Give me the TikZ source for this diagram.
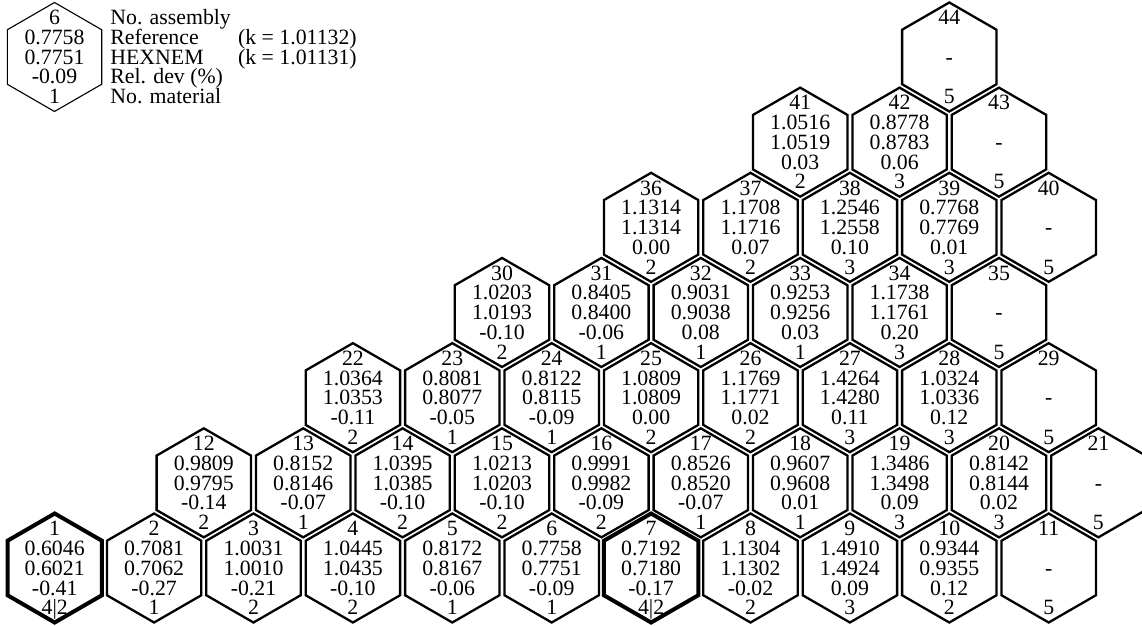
\documentclass[tikz,border=0pt]{standalone}
\usepackage{fontspec}
\setmainfont{Liberation Serif}
\newcommand\hexc[8]{%
  \pgfmathsetmacro\cx{54.7+99.4*(1.5*#2+#3)}%
  \pgfmathsetmacro\cy{568-85.17*#2}%
  \coordinate (c#1) at (\cx,\cy);
  \draw[#8] (\cx,\cy-54.5) -- (\cx+47.2,\cy-27.25) -- (\cx+47.2,\cy+27.25) -- (\cx,\cy+54.5) -- (\cx-47.2,\cy+27.25) -- (\cx-47.2,\cy-27.25) -- cycle;
  \node[lbl] (num#1) at (\cx,\cy-32.2) {#1};
  \node[lbl] (ref#1) at (\cx,\cy-12.5) {#4};
  \node[lbl] (hxn#1) at (\cx,\cy+7.3) {#5};
  \node[lbl] (dev#1) at (\cx,\cy+27) {#6};
  \node[lbl] (mat#1) at (\cx,\cy+46.8) {#7};
}
\begin{document}
\begin{tikzpicture}[x=0.5pt,y=-0.5pt,
  lbl/.style={anchor=base,inner sep=0pt,font=\fontsize{10.9}{12}\selectfont},
  leglbl/.style={anchor=base west,inner sep=0pt,font=\fontsize{10.9}{12}\selectfont},
  cell/.style={line width=1.15pt},
  thickcell/.style={line width=2pt},
  legendhex/.style={line width=0.55pt}]
\useasboundingbox (0,0) rectangle (1142,626);

% legend
\coordinate (leg) at (54.5,57);
\draw[legendhex] (54.5,2.5) -- (101.7,29.75) -- (101.7,84.25) -- (54.5,111.5) -- (7.3,84.25) -- (7.3,29.75) -- cycle;
\node[lbl] (legnum) at (54.5,24.8) {6};
\node[lbl] (legref) at (54.5,44.5) {0.7758};
\node[lbl] (leghxn) at (54.5,64.3) {0.7751};
\node[lbl] (legdev) at (54.5,84) {-0.09};
\node[lbl] (legmat) at (54.5,103.8) {1};
\node[leglbl] (t1) at (110,24.8) {No. assembly};
\node[leglbl] (t2) at (110,44.5) {Reference};
\node[leglbl] (t3) at (110,64.3) {HEXNEM};
\node[leglbl] (t4) at (110,84) {Rel. dev (\%)};
\node[leglbl] (t5) at (110,103.8) {No. material};
\node[leglbl] (k1) at (237.7,44.5) {(k = 1.01132)};
\node[leglbl] (k2) at (237.7,64.3) {(k = 1.01131)};

% row 0
\hexc{1}{0}{0}{0.6046}{0.6021}{-0.41}{4|2}{thickcell}
\hexc{2}{0}{1}{0.7081}{0.7062}{-0.27}{1}{cell}
\hexc{3}{0}{2}{1.0031}{1.0010}{-0.21}{2}{cell}
\hexc{4}{0}{3}{1.0445}{1.0435}{-0.10}{2}{cell}
\hexc{5}{0}{4}{0.8172}{0.8167}{-0.06}{1}{cell}
\hexc{6}{0}{5}{0.7758}{0.7751}{-0.09}{1}{cell}
\hexc{7}{0}{6}{0.7192}{0.7180}{-0.17}{4|2}{thickcell}
\hexc{8}{0}{7}{1.1304}{1.1302}{-0.02}{2}{cell}
\hexc{9}{0}{8}{1.4910}{1.4924}{0.09}{3}{cell}
\hexc{10}{0}{9}{0.9344}{0.9355}{0.12}{2}{cell}
\hexc{11}{0}{10}{}{-}{}{5}{cell}
% row 1
\hexc{12}{1}{0}{0.9809}{0.9795}{-0.14}{2}{cell}
\hexc{13}{1}{1}{0.8152}{0.8146}{-0.07}{1}{cell}
\hexc{14}{1}{2}{1.0395}{1.0385}{-0.10}{2}{cell}
\hexc{15}{1}{3}{1.0213}{1.0203}{-0.10}{2}{cell}
\hexc{16}{1}{4}{0.9991}{0.9982}{-0.09}{2}{cell}
\hexc{17}{1}{5}{0.8526}{0.8520}{-0.07}{1}{cell}
\hexc{18}{1}{6}{0.9607}{0.9608}{0.01}{1}{cell}
\hexc{19}{1}{7}{1.3486}{1.3498}{0.09}{3}{cell}
\hexc{20}{1}{8}{0.8142}{0.8144}{0.02}{3}{cell}
\hexc{21}{1}{9}{}{-}{}{5}{cell}
% row 2
\hexc{22}{2}{0}{1.0364}{1.0353}{-0.11}{2}{cell}
\hexc{23}{2}{1}{0.8081}{0.8077}{-0.05}{1}{cell}
\hexc{24}{2}{2}{0.8122}{0.8115}{-0.09}{1}{cell}
\hexc{25}{2}{3}{1.0809}{1.0809}{0.00}{2}{cell}
\hexc{26}{2}{4}{1.1769}{1.1771}{0.02}{2}{cell}
\hexc{27}{2}{5}{1.4264}{1.4280}{0.11}{3}{cell}
\hexc{28}{2}{6}{1.0324}{1.0336}{0.12}{3}{cell}
\hexc{29}{2}{7}{}{-}{}{5}{cell}
% row 3
\hexc{30}{3}{0}{1.0203}{1.0193}{-0.10}{2}{cell}
\hexc{31}{3}{1}{0.8405}{0.8400}{-0.06}{1}{cell}
\hexc{32}{3}{2}{0.9031}{0.9038}{0.08}{1}{cell}
\hexc{33}{3}{3}{0.9253}{0.9256}{0.03}{1}{cell}
\hexc{34}{3}{4}{1.1738}{1.1761}{0.20}{3}{cell}
\hexc{35}{3}{5}{}{-}{}{5}{cell}
% row 4
\hexc{36}{4}{0}{1.1314}{1.1314}{0.00}{2}{cell}
\hexc{37}{4}{1}{1.1708}{1.1716}{0.07}{2}{cell}
\hexc{38}{4}{2}{1.2546}{1.2558}{0.10}{3}{cell}
\hexc{39}{4}{3}{0.7768}{0.7769}{0.01}{3}{cell}
\hexc{40}{4}{4}{}{-}{}{5}{cell}
% row 5
\hexc{41}{5}{0}{1.0516}{1.0519}{0.03}{2}{cell}
\hexc{42}{5}{1}{0.8778}{0.8783}{0.06}{3}{cell}
\hexc{43}{5}{2}{}{-}{}{5}{cell}
% row 6
\hexc{44}{6}{0}{}{-}{}{5}{cell}
\end{tikzpicture}
\end{document}
